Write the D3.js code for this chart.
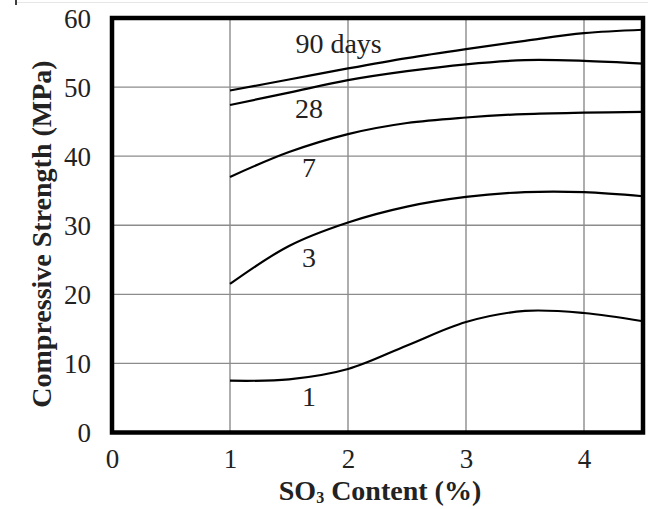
<!DOCTYPE html>
<html>
<head>
<meta charset="utf-8">
<script src="https://cdn.jsdelivr.net/npm/d3@7"></script>
<style>
  html, body { margin: 0; padding: 0; background: #fff; }
  svg { display: block; }
  text { font-family: "Liberation Serif", "Times New Roman", serif; fill: #222; }
</style>
</head>
<body>
<svg id="chart" width="652" height="509"></svg>
<script>
// ---- Data ----
const so3Content = [1, 1.5, 2, 2.5, 3, 3.5, 4, 4.5];
const ages = ["90 days", "28", "7", "3", "1"];
const strength90 = [49.5, 51.1, 52.7, 54.2, 55.5, 56.7, 57.8, 58.3];
const strength28 = [47.4, 49.2, 51.0, 52.3, 53.3, 53.9, 53.8, 53.4];
const strength7  = [37.0, 40.6, 43.2, 44.8, 45.6, 46.1, 46.3, 46.4];
const strength3  = [21.5, 27.0, 30.4, 32.7, 34.1, 34.8, 34.8, 34.2];
const strength1  = [7.5, 7.7, 9.2, 12.6, 16.0, 17.6, 17.3, 16.1];
const xTicks = [0, 1, 2, 3, 4];
const yTicks = [0, 10, 20, 30, 40, 50, 60];
// label anchor points (x in SO3 %, y in MPa)
const labelX = [1.92, 1.67, 1.67, 1.67, 1.67];
const labelY = [55.0, 45.5, 37.0, 24.0, 3.9];

const series = [strength90, strength28, strength7, strength3, strength1];

// ---- Layout ----
const svg = d3.select("#chart");
const x = d3.scaleLinear().domain([0, 4.5]).range([112, 643]);
const y = d3.scaleLinear().domain([0, 60]).range([432.5, 18]);

// faint top artifact line
svg.append("line").attr("x1", 16).attr("x2", 648).attr("y1", 2.5).attr("y2", 2.5)
  .attr("stroke", "#e6e6e6").attr("stroke-width", 1);
svg.append("line").attr("x1", 16).attr("x2", 16).attr("y1", 0).attr("y2", 5)
  .attr("stroke", "#000").attr("stroke-width", 1.5);

// gridlines
const grid = svg.append("g");
grid.selectAll("line.v").data(xTicks.filter(d => d > 0)).join("line")
  .attr("x1", d => x(d)).attr("x2", d => x(d))
  .attr("y1", y(60)).attr("y2", y(0))
  .attr("stroke", "#8c8c8c").attr("stroke-width", 1.4);
grid.selectAll("line.h").data(yTicks.filter(d => d > 0 && d < 60)).join("line")
  .attr("x1", x(0)).attr("x2", x(4.5))
  .attr("y1", d => y(d)).attr("y2", d => y(d))
  .attr("stroke", "#8c8c8c").attr("stroke-width", 1.4);

// curves
const line = d3.line()
  .x((d, i) => x(so3Content[i]))
  .y(d => y(d))
  .curve(d3.curveCatmullRom.alpha(0.5));
svg.append("g").selectAll("path").data(series).join("path")
  .attr("d", d => line(d))
  .attr("fill", "none").attr("stroke", "#000").attr("stroke-width", 2.2);

// frame
svg.append("rect")
  .attr("x", x(0)).attr("y", y(60))
  .attr("width", x(4.5) - x(0)).attr("height", y(0) - y(60))
  .attr("fill", "none").attr("stroke", "#000").attr("stroke-width", 4.5);

// axes tick labels
const xAxis = d3.axisBottom(x).tickValues(xTicks).tickSize(0).tickPadding(0).tickFormat(d3.format("d"));
const gx = svg.append("g").attr("transform", `translate(0, ${y(0)})`).call(xAxis);
gx.select(".domain").remove();
gx.selectAll("text").attr("font-size", 27).attr("dy", null).attr("y", 35)
  .attr("font-family", "Liberation Serif").attr("fill", "#222");

const yAxis = d3.axisLeft(y).tickValues(yTicks).tickSize(0).tickPadding(0).tickFormat(d3.format("d"));
const gy = svg.append("g").attr("transform", `translate(${x(0) - 21}, 0)`).call(yAxis);
gy.select(".domain").remove();
gy.selectAll("text").attr("font-size", 27).attr("dy", "0.35em").attr("x", 0)
  .attr("font-family", "Liberation Serif").attr("fill", "#222");

// series labels
svg.append("g").selectAll("text").data(ages).join("text")
  .attr("x", (d, i) => x(labelX[i]))
  .attr("y", (d, i) => y(labelY[i]))
  .attr("text-anchor", "middle")
  .attr("font-size", 28)
  .text(d => d);

// axis titles
const xt = svg.append("text")
  .attr("x", 380).attr("y", 500)
  .attr("text-anchor", "middle")
  .attr("font-size", 28).attr("font-weight", "bold");
xt.append("tspan").text("SO");
xt.append("tspan").attr("font-size", 16).attr("dy", 3).text("3");
xt.append("tspan").attr("dy", -3).text(" Content (%)");

svg.append("text")
  .attr("transform", "translate(51, 234) rotate(-90)")
  .attr("text-anchor", "middle")
  .attr("font-size", 28).attr("font-weight", "bold")
  .text("Compressive Strength (MPa)");
</script>
</body>
</html>
